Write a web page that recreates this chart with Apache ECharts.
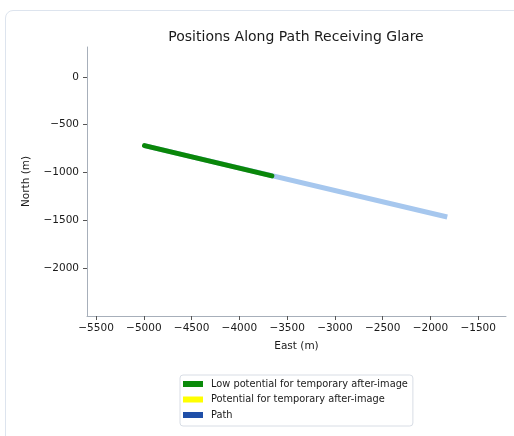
<!DOCTYPE html>
<html>
<head>
<meta charset="utf-8">
<script src="https://cdn.jsdelivr.net/npm/echarts@6/dist/echarts.min.js"></script>
<style>
html,body{margin:0;padding:0;background:#fff;width:514px;height:436px;overflow:hidden;}
#card{position:absolute;left:5px;top:10px;width:530px;height:450px;border:1px solid #dde4ee;border-radius:8px;box-sizing:border-box;}
#chart{position:absolute;left:0;top:0;width:514px;height:436px;}
</style>
</head>
<body>
<div id="card"></div>
<div id="chart"></div>
<script>
// Data
const pathEast = [-4993, -1824];
const pathNorth = [-719, -1465];
const lowEast = [-4993, -3660];
const lowNorth = [-719, -1035];
const potEast = [];
const potNorth = [];
const xTicks = [-5500, -5000, -4500, -4000, -3500, -3000, -2500, -2000, -1500];
const yTicks = [0, -500, -1000, -1500, -2000];
const seriesNames = ['Low potential for temporary after-image', 'Potential for temporary after-image', 'Path'];

const pairs = (xs, ys) => xs.map((x, i) => [x, ys[i]]);
const fmt = v => String(v).replace('-', '\u2212');
const font = 'DejaVu Sans';
const axisColor = '#a7afba';

const chart = echarts.init(document.getElementById('chart'), null, {renderer: 'canvas'});
chart.setOption({
  animation: false,
  backgroundColor: 'transparent',
  title: {
    text: 'Positions Along Path Receiving Glare',
    left: 291, top: 25, textAlign: 'center',
    textStyle: {fontFamily: font, fontSize: 14, fontWeight: 'normal', color: '#1a1a1a'}
  },
  grid: {left: 87, right: 8, top: 47, bottom: 120, containLabel: false},
  xAxis: {
    type: 'value', min: -5595, max: -1209,
    name: 'East (m)', nameLocation: 'middle', nameGap: 25,
    nameTextStyle: {fontFamily: font, fontSize: 10.5, color: '#1a1a1a'},
    axisLine: {show: true, onZero: false, lineStyle: {color: axisColor, width: 1}},
    axisTick: {show: true, length: 4, inside: false, customValues: xTicks, lineStyle: {color: '#555'}},
    axisLabel: {customValues: xTicks, formatter: fmt, margin: 7, fontFamily: font, fontSize: 10.5, color: '#1a1a1a'},
    splitLine: {show: false}
  },
  yAxis: {
    type: 'value', min: -2500, max: 312,
    name: 'North (m)', nameLocation: 'middle', nameGap: 55, nameRotate: 90,
    nameTextStyle: {fontFamily: font, fontSize: 10.5, color: '#1a1a1a'},
    axisLine: {show: true, onZero: false, lineStyle: {color: axisColor, width: 1}},
    axisTick: {show: true, length: 4, inside: false, customValues: yTicks, lineStyle: {color: '#555'}},
    axisLabel: {customValues: yTicks, formatter: fmt, margin: 8, fontFamily: font, fontSize: 10.5, color: '#1a1a1a'},
    splitLine: {show: false}
  },
  legend: {
    orient: 'vertical', left: 180, top: 375,
    padding: [3, 5, 5, 3],
    itemWidth: 20, itemHeight: 6, itemGap: 3.5,
    icon: 'rect',
    borderColor: '#d8dde5', borderWidth: 1, borderRadius: 3,
    backgroundColor: '#fff',
    textStyle: {fontFamily: font, fontSize: 9.8, color: '#1a1a1a', lineHeight: 12, padding: [0, 0, 0, 3]},
    data: [
      {name: seriesNames[0], itemStyle: {color: '#0a8a0a'}},
      {name: seriesNames[1], itemStyle: {color: '#ffff00'}},
      {name: seriesNames[2], itemStyle: {color: '#1f4fa8'}}
    ]
  },
  series: [
    {
      name: seriesNames[2], type: 'line', data: pairs(pathEast, pathNorth),
      showSymbol: false, symbol: 'none', z: 2,
      itemStyle: {color: '#1f4fa8'},
      lineStyle: {color: '#a6c7ee', width: 5, cap: 'butt'}
    },
    {
      name: seriesNames[0], type: 'line', data: pairs(lowEast, lowNorth),
      showSymbol: false, symbol: 'none', z: 3,
      itemStyle: {color: '#0a8a0a'},
      lineStyle: {color: '#0a870a', width: 5, cap: 'round'}
    },
    {
      name: seriesNames[1], type: 'line', data: pairs(potEast, potNorth),
      showSymbol: false, symbol: 'none', z: 3,
      itemStyle: {color: '#ffff00'},
      lineStyle: {color: '#ffff00', width: 5}
    }
  ]
});
</script>
</body>
</html>
